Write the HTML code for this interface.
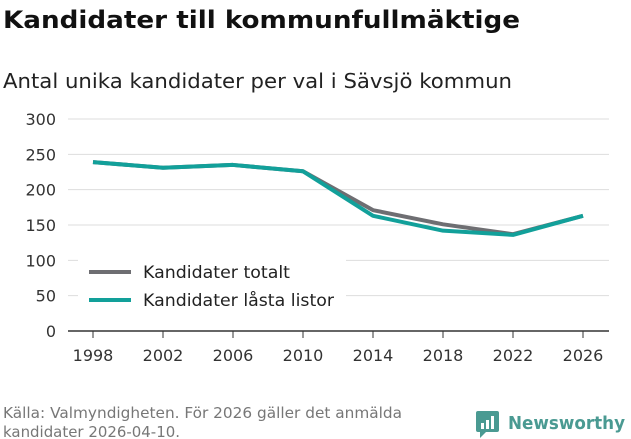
<!DOCTYPE html>
<html><head><meta charset="utf-8"><style>
body{margin:0;width:631px;height:439px;background:#fff;font-family:"DejaVu Sans","Liberation Sans",sans-serif;overflow:hidden;position:relative}
</style></head><body>
<svg width="631" height="439" style="position:absolute;left:0;top:0">
<text x="3" y="28" font-size="24" font-weight="bold" fill="#111" textLength="517" lengthAdjust="spacingAndGlyphs">Kandidater till kommunfullmäktige</text>
<text x="3" y="88" font-size="20" fill="#222" textLength="509" lengthAdjust="spacingAndGlyphs">Antal unika kandidater per val i Sävsjö kommun</text>
<g id="grid"></g><g id="xaxis"></g><g id="series"></g>
<g>
<rect x="78" y="258" width="268" height="62" fill="#fff"/>
<line x1="89" y1="272" x2="131" y2="272" stroke="#6e6e72" stroke-width="4"/>
<text x="143" y="278" font-size="17" fill="#222" textLength="147" lengthAdjust="spacingAndGlyphs">Kandidater totalt</text>
<line x1="89" y1="300" x2="131" y2="300" stroke="#12a09a" stroke-width="4"/>
<text x="143" y="306" font-size="17" fill="#222" textLength="191" lengthAdjust="spacingAndGlyphs">Kandidater låsta listor</text>
</g>
<text x="3" y="418" font-size="15" fill="#777" textLength="399" lengthAdjust="spacingAndGlyphs">Källa: Valmyndigheten. För 2026 gäller det anmälda</text>
<text x="3" y="437" font-size="15" fill="#777" textLength="177" lengthAdjust="spacingAndGlyphs">kandidater 2026-04-10.</text>
<g>
<rect x="476" y="411" width="23" height="21" rx="2" fill="#4a9a92"/>
<polygon points="480,432 486,432 480,438" fill="#4a9a92"/>
<rect x="481" y="423" width="3" height="6" fill="#fff"/><rect x="486" y="420" width="3" height="9" fill="#fff"/><rect x="491" y="416" width="3" height="13" fill="#fff"/>
<text x="508" y="429" font-size="18" font-weight="bold" fill="#4a9a92" textLength="117" lengthAdjust="spacingAndGlyphs">Newsworthy</text>
</g>
</svg>
<script>
const years=[1998,2002,2006,2010,2014,2018,2022,2026];
const totalt=[239,231,235,226,171,151,137,163];
const lasta=[239,231,235,226,163,142,136,163];
const yTicks=[0,50,100,150,200,250,300];
const ns="http://www.w3.org/2000/svg";
const x=i=>93+i*70;
const y=v=>331-v*(212/300);
function mk(t,a,p){const e=document.createElementNS(ns,t);for(const k in a)e.setAttribute(k,a[k]);p.appendChild(e);return e;}
const g=document.getElementById('grid');
yTicks.forEach(v=>{
 const l=mk('line',{x1:68,x2:609,y1:y(v),y2:y(v),stroke:v===0?'#333':'#ddd','stroke-width':v===0?1.5:1},g);
 
 
 const t=mk('text',{x:56,y:y(v)+6,'font-size':16,fill:'#333','text-anchor':'end'},g);
 t.textContent=v;
 
 
});
const xa=document.getElementById('xaxis');
years.forEach((yr,i)=>{
 const l=mk('line',{x1:x(i),x2:x(i),y1:331,y2:338,stroke:'#333'},xa);
 
 
 const t=mk('text',{x:x(i),y:361,'font-size':16,fill:'#333','text-anchor':'middle'},xa);
 t.textContent=yr;
 
 
});
const s=document.getElementById('series');
[[totalt,'#6e6e72','line-totalt'],[lasta,'#12a09a','line-lasta']].forEach(([d,c,n])=>{
 const p=mk('path',{d:d.map((v,i)=>(i?'L':'M')+x(i)+','+y(v)).join(''),fill:'none',stroke:c,'stroke-width':4,'stroke-linejoin':'round'},s);
 
 
});
</script>
</body></html>
